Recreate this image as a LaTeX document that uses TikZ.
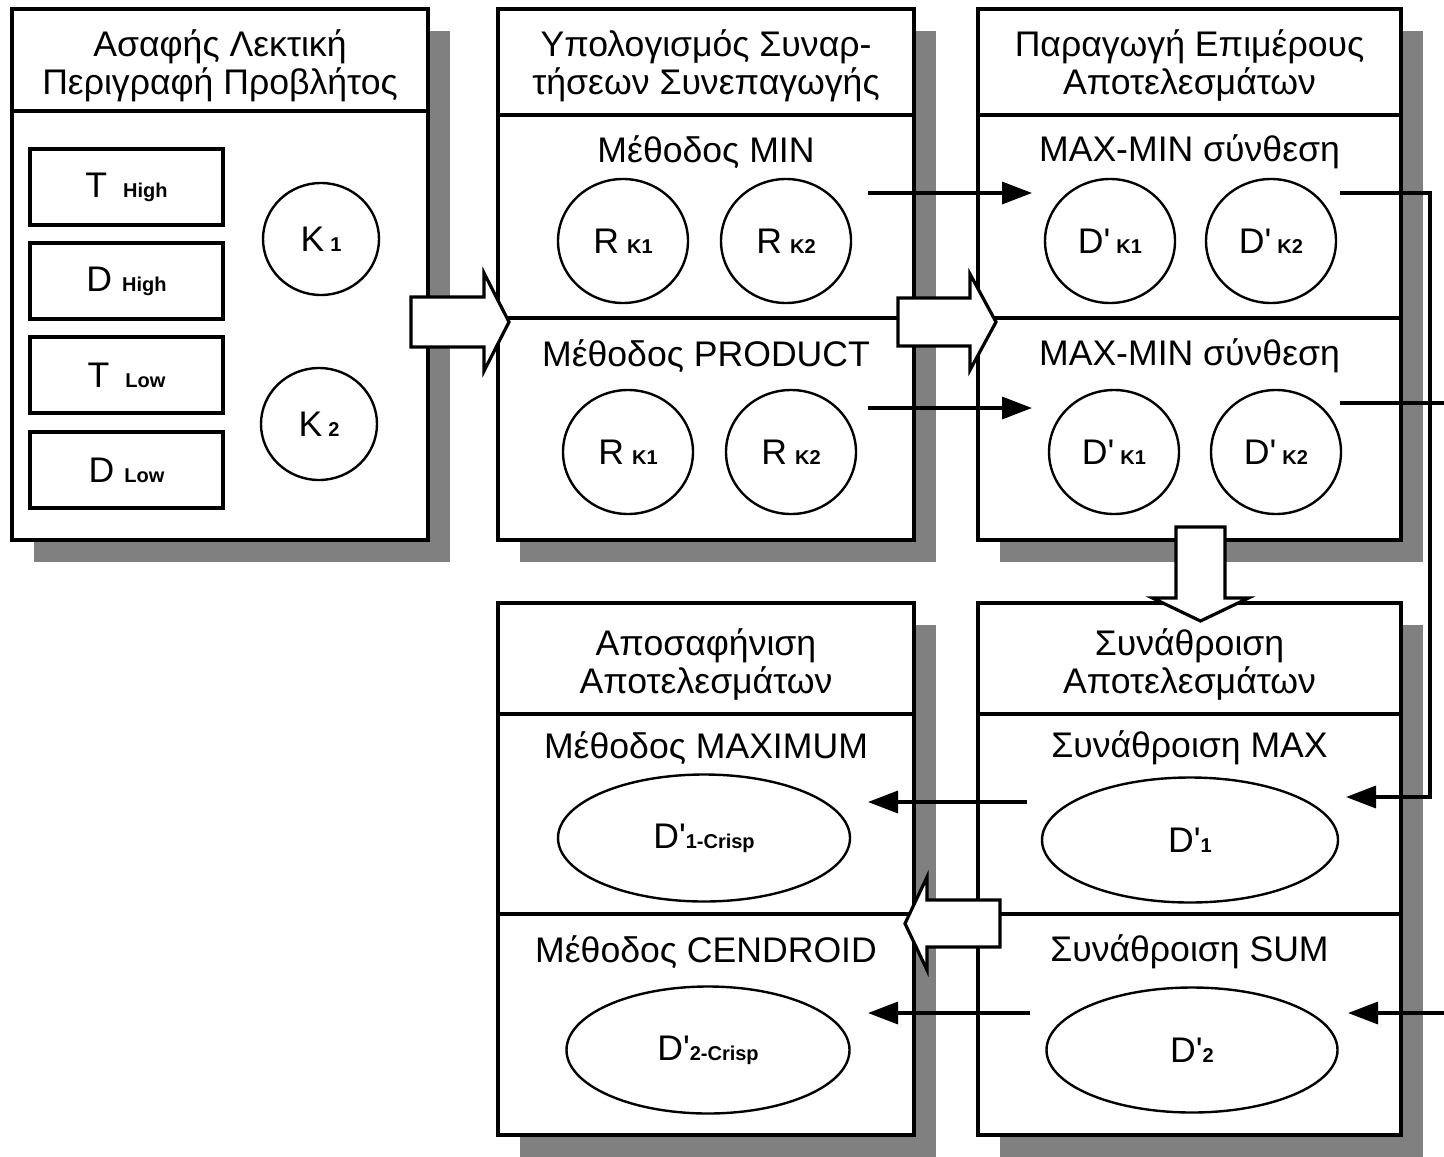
\documentclass[tikz,border=0pt]{standalone}
\usepackage{fontspec}
\setmainfont{Liberation Sans}
\usetikzlibrary{calc, shapes.geometric, shadows, arrows.meta}

\newcommand{\subtxt}[1]{{\fontsize{10pt}{10pt}\selectfont\bfseries #1}}

\begin{document}
\begin{tikzpicture}[
  x=0.5pt, y=-0.5pt,
  font=\fontsize{17.8pt}{19pt}\selectfont,
  panel/.style={
    draw,
    line width=2.2pt,
    fill=white,
    minimum width=208pt,
    minimum height=265.5pt,
    inner sep=0pt,
    drop shadow={shadow xshift=11pt, shadow yshift=-11pt, fill=black!50, opacity=1},
  },
  rule/.style={line width=1.8pt},
  term/.style={draw, line width=1.6pt, minimum width=96.5pt, minimum height=38pt, inner sep=0pt},
  blob/.style={draw, ellipse, line width=1.2pt, inner sep=0pt, minimum width=65pt, minimum height=62pt},
  caption/.style={align=center, inner sep=0pt},
  bigarrow/.style={draw, line width=1.6pt, fill=white, line join=miter},
  flow/.style={line width=1.7pt, -{Triangle[length=15pt, width=11pt]}},
]
\path[fill=white, use as bounding box] (0,0) rectangle (1444,1156);

% --- Fuzzy description ---
\node[panel] (Fuzzy) at (220,274.5) {};
\draw[rule] ($(Fuzzy.north west)+(0,104)$) -- ($(Fuzzy.north east)+(0,104)$);
\node[caption] (FuzzyTitle) at (220,66) {Ασαφής Λεκτική\\Περιγραφή Προβλήτος};
\node[term] (THigh) at (126.5,187) {T\hspace{8pt}\subtxt{High}};
\node[term] (DHigh) at (126.5,281) {D\hspace{5pt}\subtxt{High}};
\node[term] (TLow) at (126.5,375) {T\hspace{8pt}\subtxt{Low}};
\node[term] (DLow) at (126.5,470) {D\hspace{5pt}\subtxt{Low}};
\node[blob, minimum width=58pt, minimum height=56pt] (KOne) at (321,239) {K\,\subtxt{1}};
\node[blob, minimum width=58pt, minimum height=56pt] (KTwo) at (319,424) {K\,\subtxt{2}};

% --- Implication functions ---
\node[panel] (Implic) at (706,274.5) {};
\draw[rule] ($(Implic.north west)+(0,108)$) -- ($(Implic.north east)+(0,108)$);
\draw[rule] ($(Implic.north west)+(0,311)$) -- ($(Implic.north east)+(0,311)$);
\node[caption] (ImplicTitle) at (706,66) {Υπολογισμός Συναρ-\\τήσεων Συνεπαγωγής};
\node[caption] (MinHead) at (706,152) {Μέθοδος MIN};
\node[caption] (ProdHead) at (706,356) {Μέθοδος PRODUCT};
\node[blob] (MinRA) at (623,241) {R\hspace{4pt}\subtxt{K1}};
\node[blob] (MinRB) at (786,241) {R\hspace{4pt}\subtxt{K2}};
\node[blob] (ProdRA) at (628,452) {R\hspace{4pt}\subtxt{K1}};
\node[blob] (ProdRB) at (791,452) {R\hspace{4pt}\subtxt{K2}};

% --- Partial results ---
\node[panel, minimum width=211.5pt] (Infer) at (1189.5,274.5) {};
\draw[rule] ($(Infer.north west)+(0,108)$) -- ($(Infer.north east)+(0,108)$);
\draw[rule] ($(Infer.north west)+(0,311)$) -- ($(Infer.north east)+(0,311)$);
\node[caption] (InferTitle) at (1189.5,66) {Παραγωγή Επιμέρους\\Αποτελεσμάτων};
\node[caption] (InfMinHead) at (1189.5,152) {MAX-MIN σύνθεση};
\node[caption] (InfProdHead) at (1189.5,356) {MAX-MIN σύνθεση};
\node[blob] (InfMinA) at (1110,241) {D\textquotesingle\hspace{3pt}\subtxt{K1}};
\node[blob] (InfMinB) at (1271,241) {D\textquotesingle\hspace{3pt}\subtxt{K2}};
\node[blob] (InfProdA) at (1114,452) {D\textquotesingle\hspace{3pt}\subtxt{K1}};
\node[blob] (InfProdB) at (1276,452) {D\textquotesingle\hspace{3pt}\subtxt{K2}};

% --- Defuzzification ---
\node[panel, minimum height=266pt] (Defuzz) at (706,869) {};
\draw[rule] ($(Defuzz.north west)+(0,113)$) -- ($(Defuzz.north east)+(0,113)$);
\draw[rule] ($(Defuzz.north west)+(0,313)$) -- ($(Defuzz.north east)+(0,313)$);
\node[caption] (DefuzzTitle) at (706,664) {Αποσαφήνιση\\Αποτελεσμάτων};
\node[caption] (MaximumHead) at (706,748) {Μέθοδος MAXIMUM};
\node[caption] (CentroidHead) at (706,952) {Μέθοδος CENDROID};
\node[blob, minimum width=146pt, minimum height=63.5pt] (CrispOne) at (704,838) {D\textquotesingle\subtxt{1-Crisp}};
\node[blob, minimum width=141.5pt, minimum height=63.5pt] (CrispTwo) at (708,1050) {D\textquotesingle\subtxt{2-Crisp}};

% --- Aggregation ---
\node[panel, minimum width=211.5pt, minimum height=266pt] (Aggr) at (1189.5,869) {};
\draw[rule] ($(Aggr.north west)+(0,113)$) -- ($(Aggr.north east)+(0,113)$);
\draw[rule] ($(Aggr.north west)+(0,313)$) -- ($(Aggr.north east)+(0,313)$);
\node[caption] (AggrTitle) at (1189.5,664) {Συνάθροιση\\Αποτελεσμάτων};
\node[caption] (MaxHead) at (1189.5,748) {Συνάθροιση MAX};
\node[caption] (SumHead) at (1189.5,952) {Συνάθροιση SUM};
\node[blob, minimum width=148pt, minimum height=62.5pt] (AggrOne) at (1190,840) {D\textquotesingle\subtxt{1}};
\node[blob, minimum width=145.5pt, minimum height=62.5pt] (AggrTwo) at (1192,1050) {D\textquotesingle\subtxt{2}};

% Hollow block arrows between the stages
\coordinate (StepOne) at (411,322);
\coordinate (StepTwo) at (898,322);
\coordinate (StepThree) at (1200.5,527);
\coordinate (StepFour) at (1000,923.5);
\draw[bigarrow] (StepOne) ++(0,-25) -- ++(73,0) -- ++(0,-24) -- ++(25,49) -- ++(-25,49) -- ++(0,-24) -- ++(-73,0) -- cycle;
\draw[bigarrow] (StepTwo) ++(0,-24) -- ++(72,0) -- ++(0,-24) -- ++(26,48) -- ++(-26,48) -- ++(0,-24) -- ++(-72,0) -- cycle;
\draw[bigarrow] (StepThree) ++(-24.5,0) -- ++(49,0) -- ++(0,71) -- ++(23.5,0) -- ++(-48,23) -- ++(-48,-23) -- ++(23.5,0) -- cycle;
\draw[bigarrow] (StepFour) ++(0,-23.5) -- ++(-73,0) -- ++(0,-23) -- ++(-22,46.5) -- ++(22,46.5) -- ++(0,-23) -- ++(73,0) -- cycle;

% Thin connectors with solid heads
\coordinate (MinOut) at (868,193);
\coordinate (MinIn) at (1032,193);
\coordinate (ProdOut) at (868,408);
\coordinate (ProdIn) at (1032,408);
\coordinate (InfMinOut) at (1340,193);
\coordinate (LoopTop) at (1430,193);
\coordinate (MaxIn) at (1346,797);
\coordinate (InfProdOut) at (1340,403);
\coordinate (EdgeTop) at (1444,403);
\coordinate (EdgeBot) at (1444,1013);
\coordinate (SumIn) at (1348,1013);
\coordinate (MaxOut) at (1027,802);
\coordinate (MaximumIn) at (868,802);
\coordinate (SumOut) at (1030,1013);
\coordinate (CentroidIn) at (868,1013);
\draw[flow] (MinOut) -- (MinIn);
\draw[flow] (ProdOut) -- (ProdIn);
\draw[flow] (InfMinOut) -- (LoopTop) |- (MaxIn);
\draw[line width=1.7pt] (InfProdOut) -- (EdgeTop);
\draw[flow] (EdgeBot) -- (SumIn);
\draw[flow] (MaxOut) -- (MaximumIn);
\draw[flow] (SumOut) -- (CentroidIn);
\end{tikzpicture}
\end{document}
